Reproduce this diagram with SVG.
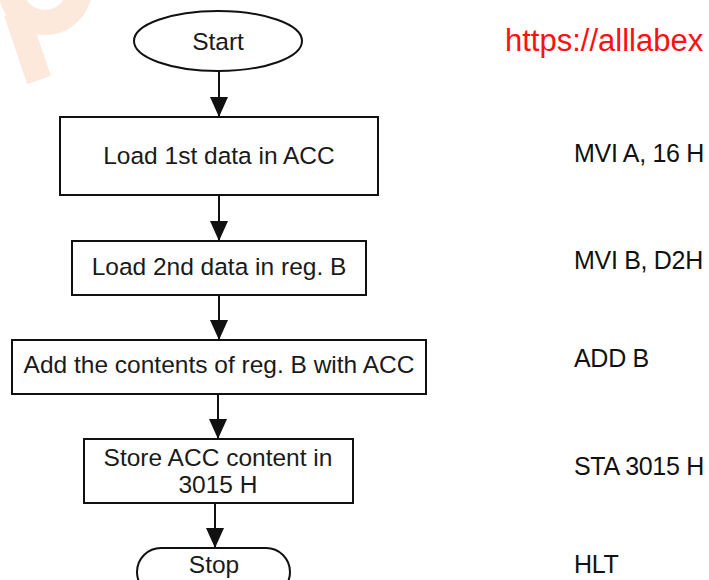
<svg xmlns="http://www.w3.org/2000/svg" width="709" height="580" viewBox="0 0 709 580">
  <defs>
    <style>
      .shape { fill: #ffffff; stroke: #111111; stroke-width: 2; }
      .label { font-family: "Liberation Sans", Arial, sans-serif; font-size: 24.5px; fill: #1a1a1a; text-anchor: middle; }
      .code { font-family: "Liberation Sans", Arial, sans-serif; font-size: 25px; fill: #111111; letter-spacing: -0.3px; }
      .url { font-family: "Liberation Sans", Arial, sans-serif; font-size: 31px; fill: #ff1010; }
      .flow { stroke: #111111; stroke-width: 2; fill: none; marker-end: url(#head); }
      .mark { fill: none; stroke: #fde8dc; stroke-width: 25; }
    </style>
    <marker id="head" viewBox="0 0 20 18" refX="20" refY="9" markerWidth="20" markerHeight="18" markerUnits="userSpaceOnUse" orient="auto">
      <path d="M0 0 L20 9 L0 18 Z" fill="#111111"/>
    </marker>
  </defs>

  <rect width="709" height="580" fill="#ffffff"/>

  <!-- faint logo mark, top left -->
  <g id="logo-mark">
    <path class="mark" d="M 10.5 -12 A 34.5 34.5 0 0 0 79.5 -12"/>
    <path class="mark" d="M 16 12 L 39 80"/>
  </g>

  <!-- site address -->
  <text class="url" x="505" y="51">https://alllabex</text>

  <!-- connectors -->
  <g id="connectors">
    <line class="flow" x1="219" y1="71" x2="219" y2="117"/>
    <line class="flow" x1="219" y1="195" x2="219" y2="241"/>
    <line class="flow" x1="219" y1="295" x2="219" y2="340"/>
    <line class="flow" x1="218" y1="394" x2="218" y2="439"/>
    <line class="flow" x1="215" y1="503" x2="215" y2="548"/>
  </g>

  <g id="start">
    <ellipse class="shape" cx="218" cy="41" rx="84" ry="30"/>
    <text class="label" x="218" y="50">Start</text>
  </g>

  <g id="load-first">
    <rect class="shape" x="60" y="117" width="318" height="78"/>
    <text class="label" x="219" y="164">Load 1st data in ACC</text>
  </g>

  <g id="load-second">
    <rect class="shape" x="72" y="241" width="294" height="54"/>
    <text class="label" x="219" y="275">Load 2nd data in reg. B</text>
  </g>

  <g id="add">
    <rect class="shape" x="12" y="340" width="414" height="54"/>
    <text class="label" x="219" y="373">Add the contents of reg. B with ACC</text>
  </g>

  <g id="store">
    <rect class="shape" x="84" y="439" width="269" height="64"/>
    <text class="label" x="218" y="466">Store ACC content in</text>
    <text class="label" x="218" y="493">3015 H</text>
  </g>

  <g id="stop">
    <rect class="shape" x="137" y="548" width="153" height="48" rx="24" ry="24"/>
    <text class="label" x="214" y="573">Stop</text>
  </g>

  <!-- assembly listing -->
  <g id="listing">
    <text class="code" x="574" y="162">MVI A, 16 H</text>
    <text class="code" x="574" y="269">MVI B, D2H</text>
    <text class="code" x="574" y="367">ADD B</text>
    <text class="code" x="574" y="475">STA 3015 H</text>
    <text class="code" x="574" y="573">HLT</text>
  </g>
</svg>
